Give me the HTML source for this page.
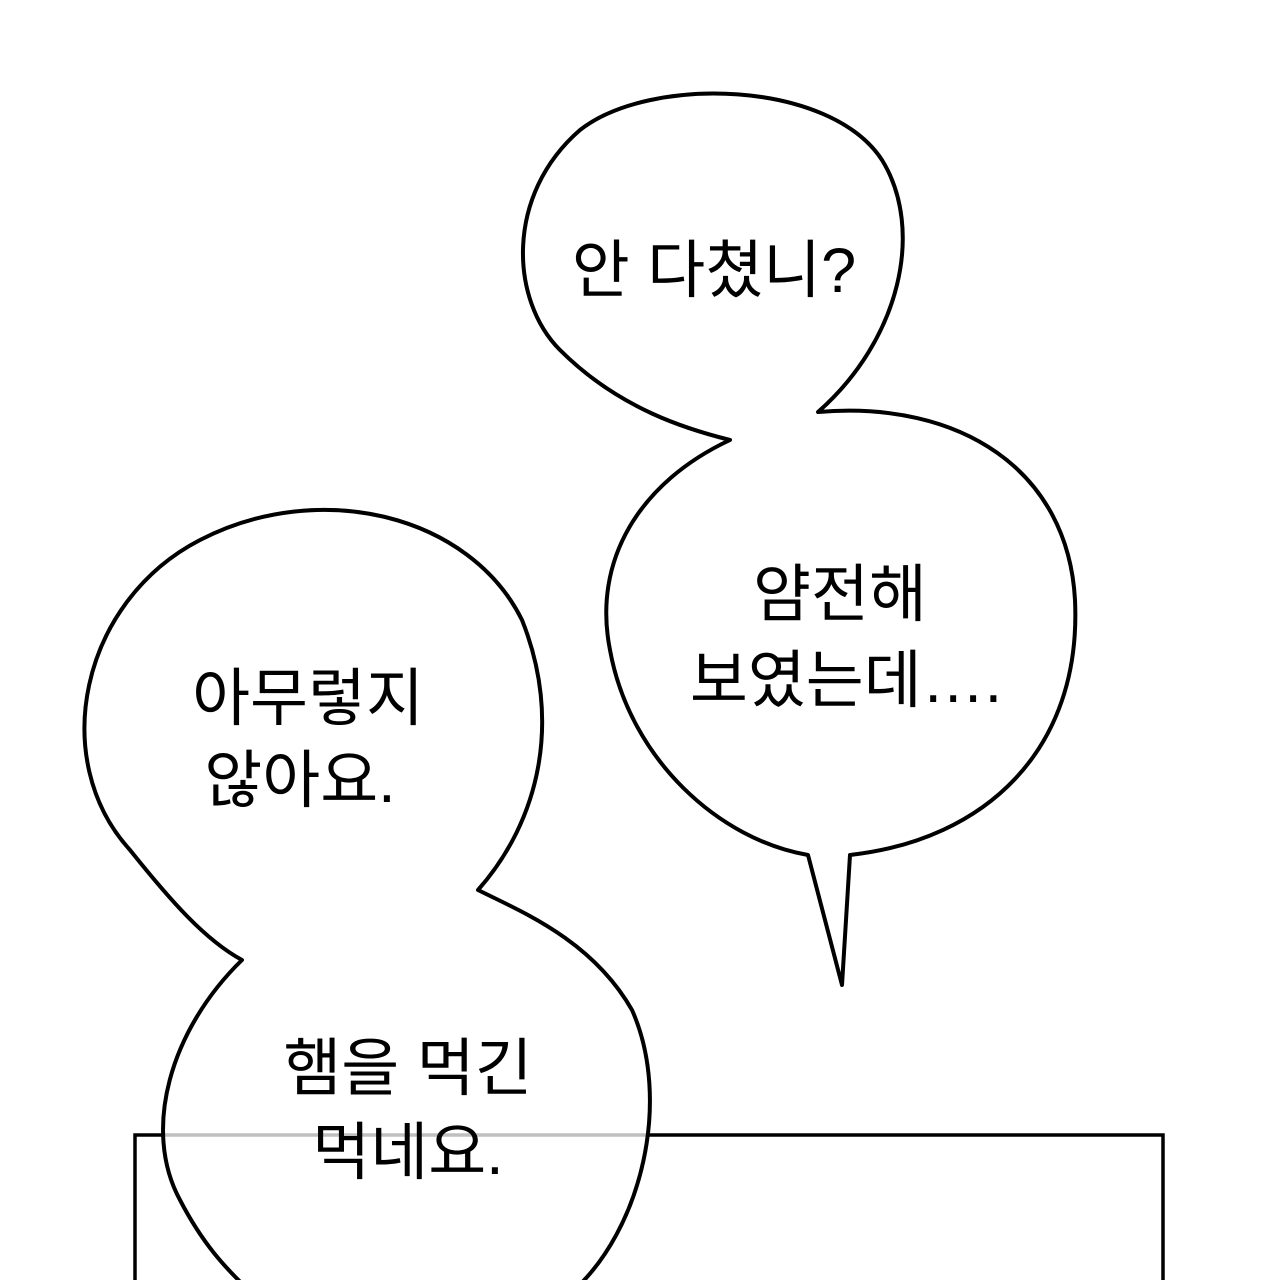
<!DOCTYPE html>
<html><head><meta charset="utf-8"><style>
html,body{margin:0;padding:0;background:#fff;}
svg{display:block}
text{font-family:"Liberation Sans","Noto Sans CJK KR","NanumGothic",sans-serif;font-size:63px;fill:#000;text-anchor:middle}
</style></head><body>
<svg width="1280" height="1280" viewBox="0 0 1280 1280" xmlns="http://www.w3.org/2000/svg">
<rect x="0" y="0" width="1280" height="1280" fill="#fff"/>
<path d="M135 1290 L135 1135 L1163 1135 L1163 1290" fill="none" stroke="#000" stroke-width="3.5"/>
<path d="M818 412 C900 340,925 230,882 160 C830 80,650 75,580 130 C505 195,510 300,560 350 C620 410,690 430,730 440 C640 482,592 560,610 650 C630 760,720 840,808 855 L842 985 L850 855 C985 840,1082 750,1075 600 C1068 470,960 400,818 412 Z" fill="#fff" stroke="#000" stroke-width="4" stroke-linejoin="round"/>
<path d="M478 890 C540 820,562 720,522 620 C470 515,320 478,200 540 C80 602,48 760,130 850 C170 900,205 940,242 960 C170 1030,142 1130,180 1200 C210 1258,240 1280,250 1292 L572 1292 C642 1230,672 1100,632 1010 C592 940,522 912,478 890 Z" fill="#fff" fill-opacity="0.75" stroke="#000" stroke-width="4" stroke-linejoin="round"/>
<text x="714" y="292">안 다쳤니?</text>
<text x="840" y="616">얌전해</text>
<text x="846" y="702">보였는데….</text>
<text x="308" y="720">아무렇지</text>
<text x="300" y="802">않아요.</text>
<text x="408" y="1090">햄을 먹긴</text>
<text x="408" y="1174">먹네요.</text>
</svg>
</body></html>
